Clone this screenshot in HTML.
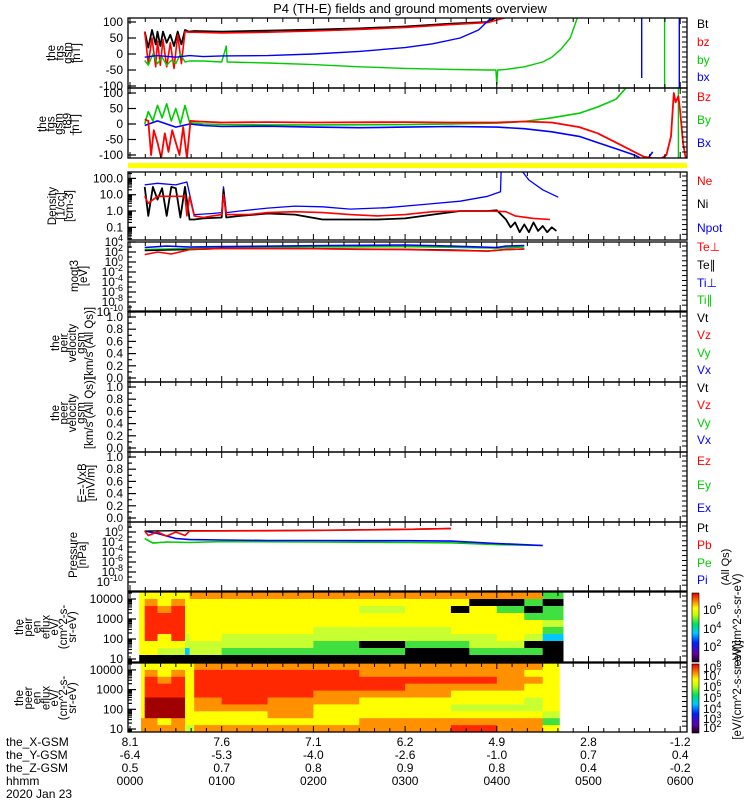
<!DOCTYPE html>
<html><head><meta charset="utf-8"><style>
html,body{margin:0;padding:0;background:#fff;}
svg{display:block;font-family:"Liberation Sans",sans-serif;}
</style></head><body>
<svg id="chart" width="750" height="800" viewBox="0 0 750 800" xmlns="http://www.w3.org/2000/svg">
<defs>
<linearGradient id="cbar" x1="0" y1="1" x2="0" y2="0">
<stop offset="0" stop-color="#200020"/><stop offset="0.12" stop-color="#6000a0"/><stop offset="0.28" stop-color="#0020ff"/><stop offset="0.42" stop-color="#00c8ff"/><stop offset="0.55" stop-color="#00e060"/><stop offset="0.68" stop-color="#c0ff00"/><stop offset="0.78" stop-color="#ffff00"/><stop offset="0.88" stop-color="#ff8000"/><stop offset="1" stop-color="#e00000"/>
</linearGradient>
</defs>
<rect x="0" y="0" width="750" height="800" fill="#fff"/>
<text x="410" y="13" font-size="13" text-anchor="middle">P4 (TH-E) fields and ground moments overview</text>
<g id="g"></g>
</svg>
<script>
// ---- data arrays ----
const hourTicks=["0000","0100","0200","0300","0400","0500","0600"];
const xGsm=["8.1","7.6","7.1","6.2","4.9","2.8","-1.2"];
const yGsm=["-6.4","-5.3","-4.0","-2.6","-1.0","0.7","0.4"];
const zGsm=["0.5","0.7","0.8","0.9","0.8","0.4","-0.2"];

const btT=[0.16,0.2,0.24,0.28,0.3,0.33,0.36,0.4,0.44,0.48,0.52,0.56,0.6,0.64,0.7,1.0,1.5,2.0,2.5,3.0,3.5,3.9,4.1];
const btV=[70,20,75,30,70,25,70,35,60,25,70,30,75,70,72,70,73,76,80,86,95,100,130];
const bzT=[0.16,0.2,0.24,0.28,0.3,0.33,0.36,0.4,0.44,0.48,0.52,0.56,0.6,0.64,0.7,1.0,1.5,2.0,2.5,3.0,3.5,3.9,4.3];
const bzV=[70,-30,50,-40,40,-35,45,-40,35,-45,60,-30,70,68,68,66,68,72,77,83,92,98,130];
const byT=[0.16,0.2,0.25,0.3,0.35,0.4,0.45,0.5,0.55,0.6,0.65,0.8,1.0,1.05,1.06,1.5,2.0,2.5,3.0,3.5,3.9,3.99,4.0,4.01,4.1,4.3,4.5,4.6,4.7,4.8,4.9];
const byV=[-20,-35,0,-30,-10,-35,-20,-30,0,-25,-22,-22,-25,25,-25,-28,-33,-40,-45,-48,-50,-50,-95,-50,-48,-40,-25,-10,15,50,130];
const byLateT=[5.83,5.83];
const byLateV=[130,-130];
const bxT=[0.16,0.3,0.5,0.65,0.8,1.0,1.5,2.0,2.5,3.0,3.3,3.6,3.8,4.0];
const bxV=[-10,-5,-10,-5,-8,-6,-5,0,8,20,32,50,75,130];
const bxLateT=[5.58,5.58];
const bxLateV=[130,-75];
const bxLate2T=[5.99,5.99];
const bxLate2V=[130,-130];

const tBzT=[0.16,0.2,0.23,0.26,0.3,0.34,0.38,0.42,0.46,0.5,0.54,0.58,0.62,0.66,0.75,1.0,1.5,2.0,3.0,3.5,4.0,4.3,4.6,4.9,5.1,5.3,5.5,5.6,5.7,5.8,5.85,5.9,5.93,5.95,5.98,6.0,6.03,6.06];
const tBzV=[15,10,-100,-20,-60,-110,-30,-90,-20,-60,-100,-10,-110,10,8,5,6,5,6,5,5,8,5,-10,-30,-60,-90,-105,-110,-110,-100,-40,100,70,90,40,-60,-110];
const tByT=[0.16,0.2,0.25,0.3,0.35,0.4,0.45,0.5,0.55,0.6,0.65,0.8,1.0,1.5,2.0,3.0,3.5,4.0,4.3,4.6,4.9,5.1,5.3,5.45];
const tByV=[0,40,10,60,20,65,10,50,0,60,5,0,-2,-3,-3,-2,0,3,8,20,35,55,80,130];
const tByLateT=[5.98,5.98];
const tByLateV=[130,-130];
const tBxT=[0.16,0.3,0.5,0.65,0.8,1.0,1.5,2.0,2.5,3.0,3.5,4.0,4.3,4.6,4.9,5.1,5.3,5.5,5.6,5.65,5.7];
const tBxV=[-5,10,-10,0,-5,-8,-7,-10,-12,-10,-8,-10,-15,-25,-40,-60,-80,-100,-115,-110,-90];

const neT=[0.16,0.2,0.3,0.4,0.5,0.6,0.62,0.65,0.7,0.8,0.9,1.0,1.02,1.05,1.3,1.5,1.8,2.1,2.4,2.7,3.0,3.3,3.6,3.9,4.1,4.2,4.4,4.58];
const neV=[8,3,8,8,8,8,0.5,8,0.5,0.4,0.5,0.6,10,0.6,0.6,0.8,0.9,0.8,0.6,0.5,0.6,0.9,1.0,1.0,0.9,0.5,0.35,0.3];
const niT=[0.16,0.2,0.25,0.3,0.35,0.4,0.45,0.5,0.55,0.6,0.65,0.7,0.8,1.0,1.02,1.05,1.2,1.5,1.8,2.1,2.4,2.7,3.0,3.3,3.6,3.9,4.0,4.1,4.15,4.2,4.25,4.3,4.35,4.4,4.45,4.5,4.55,4.6,4.65];
const niV=[30,0.5,30,5,25,0.5,30,25,0.4,30,0.3,0.3,0.35,0.4,20,0.4,0.5,0.7,0.6,0.3,0.3,0.3,0.35,0.6,1.0,1.0,1.1,0.3,0.1,0.2,0.05,0.15,0.05,0.2,0.06,0.12,0.05,0.1,0.06];
const npT=[0.16,0.3,0.5,0.62,0.7,0.9,1.0,1.02,1.05,1.2,1.5,1.8,2.1,2.4,2.8,3.2,3.6,3.9,4.04,4.05];
const npV=[40,50,40,60,0.6,0.7,0.8,30,0.8,1.0,1.5,2,1.8,1.3,1.6,2.5,4,8,15,1000];
const np2T=[4.2,4.35,4.5,4.67];
const np2V=[1000,80,20,7];

const tepT=[0.16,0.3,0.45,0.65,1.0,1.5,2.0,2.5,3.0,3.5,3.9,4.1,4.3];
const tepV=[30,100,40,300,500,500,450,350,300,200,150,300,400];
const tepaT=[0.16,0.65,1.0,2.0,3.0,3.5,3.9,4.1,4.3];
const tepaV=[200,300,500,450,350,250,150,300,400];
const tipT=[0.16,0.4,0.65,1.0,2.0,3.0,3.5,4.0,4.1,4.3];
const tipV=[800,1500,1000,1200,1800,2500,1500,800,1500,2000];
const tipaT=[0.16,0.65,1.0,2.0,3.0,3.5,4.0,4.3];
const tipaV=[300,500,700,1000,1200,900,600,1000];

const ptT=[0.16,0.5,1.0,2.0,3.0,3.5];
const ptV=[1.5,1.8,1.8,2.2,3.5,5];
const pbT=[0.16,0.2,0.3,0.4,0.5,0.6,0.65,1.5,2.0,3.0,3.5];
const pbV=[1.5,0.2,1,0.15,1,0.2,1.5,1.7,2.0,3.3,4.8];
const peT=[0.16,0.25,0.4,0.65,1.0,2.0,3.0,3.5,4.0,4.5];
const peV=[0.05,0.006,0.01,0.008,0.012,0.01,0.008,0.007,0.003,0.002];
const piT=[0.16,0.3,0.5,0.65,1.0,1.5,2.0,3.0,3.5,4.0,4.5];
const piV=[1.5,0.5,0.05,0.03,0.025,0.02,0.02,0.018,0.015,0.005,0.002];

const peirBounds=[0.1,0.16,0.3,0.45,0.6,0.65,1.0,1.5,2.0,2.5,3.0,3.5,3.7,4.0,4.3,4.5,4.72];
const peirRows=["yyyyyyyyyk","yorrrrryyk","yyorrryylk","yorrrrrylk","yyyyyyllck","oyyyyyyllk","oyyyyyllgk","oyyyyyllgk","oyyyyllggk","oylyyllkgk","oyyyyllgkk","oykyyylgkk","okyyyyllgk","okgyyyylgk","ogkgyylkgk","gkgglgckkk"];
const peerBounds=[0.12,0.16,0.3,0.45,0.6,0.7,1.0,1.5,2.0,2.5,3.0,3.5,4.0,4.3,4.5,4.68];
const peerRows=["yyyyyyyyoo","yorrrdddoo","yyorrdddyo","yorrrdddoo","yyyyyyyyyl","orrrrooyyo","orrrrroyyo","orrrroooyo","orrrooyyyo","oorroyyyoo","oorooyyyoo","ooroyylyor","ooooyylyoo","oyoyyllyoo","yyyyyyylgy"];

// ---- helpers ----
const NS="http://www.w3.org/2000/svg";
const G=document.getElementById('g');
const X0=128,X1=687;
const tx=h=>130+h*91.7;
function mk(tag,attrs,parent){const e=document.createElementNS(NS,tag);for(const k in attrs)e.setAttribute(k,attrs[k]);(parent||G).appendChild(e);return e;}
let clipN=0;
function panel(name,top,bot){
  const id='c'+(clipN++);
  const cp=mk('clipPath',{id:id});mk('rect',{x:X0,y:top,width:X1-X0,height:bot-top},cp);
  const g=mk('g',{'clip-path':'url(#'+id+')'});
  
  
  return g;
}
function frame(name,top,bot){
  const r=mk('rect',{x:X0,y:top,width:X1-X0,height:bot-top,fill:'none',stroke:'#000','stroke-width':1.3});
  
  
  for(let m=0;m<=37;m++){const x=tx(m/6);if(x<X0||x>X1)continue;const L=(m%6==0)?6:4;
    mk('line',{x1:x,y1:top,x2:x,y2:top+L,stroke:'#000'});mk('line',{x1:x,y1:bot,x2:x,y2:bot-L,stroke:'#000'});}
  for(let y=top+4;y<bot-2;y+=(bot-top)/14){mk('line',{x1:X1,y1:y,x2:X1-5,y2:y,stroke:'#000'});}
}
function series(g,name,T,V,yf,color,w){
  const pts=T.map((t,i)=>tx(t).toFixed(1)+','+yf(V[i]).toFixed(1)).join(' ');
  const p=mk('polyline',{points:pts,fill:'none',stroke:color,'stroke-width':w||1.6,'stroke-linejoin':'round'},g);
  
  
}
function ytick(y,label,sup,isMajor){
  mk('line',{x1:X0,y1:y,x2:X0+(isMajor?8:4),y2:y,stroke:'#000','stroke-width':1.2});
  if(label!==null){const t=mk('text',{x:123,y:y+4,'font-size':12,'text-anchor':'end'});t.textContent=label;
    if(sup!==undefined){const s=mk('tspan',{dy:-5,'font-size':9},t);s.textContent=sup;}
    
    }
}
function ytitle(lines,x0,dx,yc,name){
  lines.forEach((l,i)=>{const x=x0+i*dx;const t=mk('text',{x:x,y:yc,'font-size':11.5,'text-anchor':'middle',transform:'rotate(-90 '+x+' '+yc+')'});t.textContent=l;
    
    });
}
function legend(items){items.forEach(([txt,col,y])=>{const t=mk('text',{x:697,y:y+4,'font-size':12,fill:col});t.textContent=txt;
  
  });}

// ---- panel 1: fgs gsm ----
{const top=18,bot=88;const y=v=>54-v*0.32;const g=panel('fgs-gsm',top,bot);
series(g,'bt-line',btT,btV,y,'#000',1.8);series(g,'bz-line',bzT,bzV,y,'#f00',1.6);series(g,'by-line',byT,byV,y,'#0c0',1.4);series(g,'by-late-line',byLateT,byLateV,y,'#0c0',1.4);
series(g,'bx-line',bxT,bxV,y,'#00f',1.4);series(g,'bx-late-line',bxLateT,bxLateV,y,'#00f',1.4);series(g,'bx-late-line-2',bxLate2T,bxLate2V,y,'#00f',1.4);
frame('fgs-gsm',top,bot);[100,50,0,-50,-100].forEach(v=>ytick(y(v),String(v),undefined,true));
ytitle(["the","fgs","gsm","[nT]"],55,8.3,53,'y-axis-title');
legend([["Bt","#000",24],["bz","#f00",42],["by","#0c0",60],["bx","#00f",77]]);}
// ---- panel 2: t89 ----
{const top=88,bot=158;const y=v=>124-v*0.31;const g=panel('fgs-t89',top,bot);
series(g,'t89-by-line',tByT,tByV,y,'#0c0',1.6);series(g,'t89-by-late-line',tByLateT,tByLateV,y,'#0c0',1.4);series(g,'t89-bx-line',tBxT,tBxV,y,'#00f',1.6);series(g,'t89-bz-line',tBzT,tBzV,y,'#f00',1.8);
frame('fgs-t89',top,bot);[100,50,0,-50,-100].forEach(v=>ytick(y(v),String(v),undefined,true));
ytitle(["the","fgs","gsm","_t89","[nT]"],46,8.3,124,'y-axis-title');
legend([["Bz","#f00",97],["By","#0c0",120],["Bx","#00f",143]]);}
// yellow bar
{const r=mk('rect',{x:X0,y:163,width:X1-X0,height:5,fill:'#ffff00'});}
// ---- density ----
{const top=172,bot=240;const y=v=>211-16.3*Math.log10(v);const g=panel('density',top,bot);
series(g,'npot-line',npT,npV,y,'#00f',1.3);series(g,'npot-line-2',np2T,np2V,y,'#00f',1.3);series(g,'ni-line',niT,niV,y,'#000',1.8);series(g,'ne-line',neT,neV,y,'#f00',1.6);
frame('density',top,bot);[[100,"100.0"],[10,"10.0"],[1,"1.0"],[0.1,"0.1"]].forEach(([v,l])=>ytick(y(v),l,undefined,true));
for(let d=-2;d<=2;d++)for(let k=2;k<10;k++){const yy=y(k*Math.pow(10,d));if(yy>top&&yy<bot)ytick(yy,null,undefined,false);}
ytitle(["Density","[1/cc]","[cm-3]"],56,8.5,206,'y-axis-title');
legend([["Ne","#f00",181],["Ni","#000",204],["Npot","#00f",228]]);}
// ---- temperature ----
{const top=242,bot=311;const y=v=>262-5*Math.log10(v);const g=panel('temperature',top,bot);
series(g,'ti-par-line',tipaT,tipaV,y,'#0c0',1.6);series(g,'ti-perp-line',tipT,tipV,y,'#00f',1.6);series(g,'te-par-line',tepaT,tepaV,y,'#000',1.4);series(g,'te-perp-line',tepT,tepV,y,'#f00',1.6);
frame('temperature',top,bot);[4,2,0,-2,-4,-6,-8,-10].forEach(e=>ytick(y(Math.pow(10,e)),"10",String(e),true));
for(let e=-9;e<=3;e+=2)ytick(y(Math.pow(10,e)),null,undefined,false);
ytitle(["moqt3","[eV]"],78,9,276,'y-axis-title');
legend([["Te⊥","#f00",247],["Te∥","#000",265],["Ti⊥","#00f",283],["Ti∥","#0c0",300]]);}
// ---- velocity panels & E ----
function emptyPanel(name,top,bot,title,tx0,legendItems){
  panel(name,top,bot);frame(name,top,bot);
  const yy=v=>top+5+(1-v)*(bot-top-9);
  [1.0,0.8,0.6,0.4,0.2,0.0].forEach(v=>ytick(yy(v),v.toFixed(1),undefined,true));
  for(let v=0.1;v<1;v+=0.2)ytick(yy(v),null,undefined,false);
  ytitle(title,tx0,8.5,(top+bot)/2-4,'y-axis-title');legend(legendItems);
}
emptyPanel('peir-velocity',312,382,["the","peir","velocity","gsm","[km/s (All Qs)]"],59,[["Vt","#000",318],["Vz","#f00",335],["Vy","#0c0",353],["Vx","#00f",370]]);
emptyPanel('peer-velocity',382,452,["the","peer","velocity","gsm","[km/s (All Qs)]"],59,[["Vt","#000",388],["Vz","#f00",405],["Vy","#0c0",423],["Vx","#00f",440]]);
emptyPanel('e-field',452,522,["E=-VxB","[mV/m]"],86,[["Ez","#f00",461],["Ey","#0c0",485],["Ex","#00f",508]]);
// ---- pressure ----
{const top=522,bot=591;const y=v=>532-5*Math.log10(v);const g=panel('pressure',top,bot);
series(g,'pe-line',peT,peV,y,'#0c0',1.6);series(g,'pi-line',piT,piV,y,'#00f',1.6);series(g,'pt-line',ptT,ptV,y,'#000',1.4);series(g,'pb-line',pbT,pbV,y,'#f00',1.6);
frame('pressure',top,bot);[0,-2,-4,-6,-8,-10].forEach(e=>ytick(y(Math.pow(10,e)),"10",String(e),true));
for(let e=-9;e<=1;e+=2)ytick(y(Math.pow(10,e)),null,undefined,false);
ytitle(["Pressure","[nPa]"],77,9,555,'y-axis-title');
legend([["Pt","#000",528],["Pb","#f00",545],["Pe","#0c0",563],["Pi","#00f",580]]);}
// ---- spectrograms ----
const pal={k:'#000000',b:'#0020ff',c:'#00c8ff',g:'#40e040',l:'#c8ff30',y:'#ffff00',o:'#ff9000',r:'#ff2800',d:'#a00000'};
function spectro(name,top,bot,bounds,rows,ylog){
  const g=panel(name,top,bot);const nr=rows[0].length;const rh=(bot-top)/nr;
  for(let i=0;i<rows.length;i++){const x0=tx(bounds[i]),x1=tx(bounds[i+1]);
    for(let r=0;r<nr;r++){const c=mk('rect',{x:x0.toFixed(1),y:(top+r*rh).toFixed(1),width:(x1-x0+0.6).toFixed(1),height:(rh+0.6).toFixed(1),fill:pal[rows[i][r]]},g);
      
      }}
  frame(name,top,bot);
  [[10000,"10000"],[1000,"1000"],[100,"100"],[10,"10"]].forEach(([v,l])=>ytick(ylog(v),l,undefined,true));
  for(let d=0;d<=4;d++)for(let k=2;k<10;k++){const yy=ylog(k*Math.pow(10,d));if(yy>top&&yy<bot)ytick(yy,null,undefined,false);}
}
spectro('peir-spectrogram',592,662,peirBounds,peirRows,v=>659-20*Math.log10(v/10));
spectro('peer-spectrogram',663,732,peerBounds,peerRows,v=>729-19.7*Math.log10(v/10));
ytitle(["the","peir","en","eflux","eV/","(cm^2-s-","sr-eV)"],23,8.8,627,'y-axis-title');
ytitle(["the","peer","en","eflux","eV/","(cm^2-s-","sr-eV)"],23,8.8,698,'y-axis-title');
// colorbars
[[593,662,[["6",609],["4",628],["2",646]]],[664,733,[["8",667],["7",675],["6",686],["5",697],["4",708],["3",718],["2",727]]]].forEach(([t,b,labs])=>{
  const r=mk('rect',{x:692,y:t,width:7,height:b-t,fill:'url(#cbar)',stroke:'#000','stroke-width':0.6});
  
  
  labs.forEach(([e,y])=>{const tt=mk('text',{x:703,y:y+5,'font-size':12});tt.textContent='10';const s=mk('tspan',{dy:-5,'font-size':9},tt);s.textContent=e;
    
    });
});
{const t=mk('text',{x:741,y:690,'font-size':11.5,'text-anchor':'middle',transform:'rotate(-90 741 690)'});t.textContent='[eV/(cm^2-s-sr-eV)]';

const t2=mk('text',{x:741,y:620,'font-size':11.5,'text-anchor':'middle',transform:'rotate(-90 741 620)'});t2.textContent='eV/(cm^2-s-sr-eV)';

const t3=mk('text',{x:729,y:567,'font-size':11,'text-anchor':'middle',transform:'rotate(-90 729 567)'});t3.textContent='(All Qs)';
}
// ---- bottom axis labels ----
const rowsY=[746,759,772,785];
[["the_X-GSM",xGsm],["the_Y-GSM",yGsm],["the_Z-GSM",zGsm],["hhmm",hourTicks]].forEach(([lab,arr],ri)=>{
  const t=mk('text',{x:6,y:rowsY[ri],'font-size':12});t.textContent=lab;
  
  
  arr.forEach((v,i)=>{const tt=mk('text',{x:tx(i),y:rowsY[ri],'font-size':12,'text-anchor':'middle'});tt.textContent=v;
    
    });
});
{const t=mk('text',{x:6,y:798,'font-size':12});t.textContent='2020 Jan 23';}
</script>
</body></html>
